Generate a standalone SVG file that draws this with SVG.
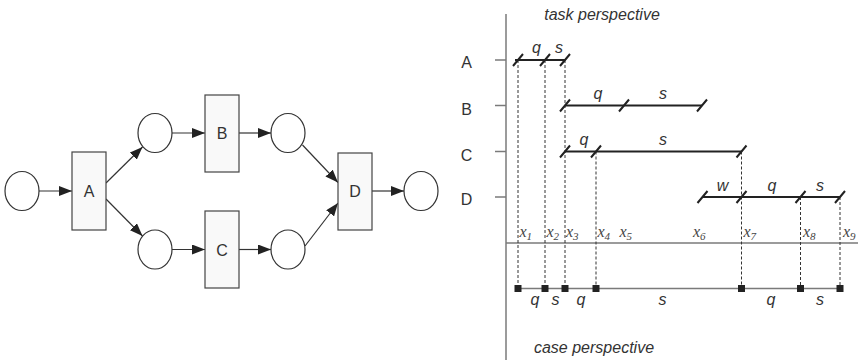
<svg xmlns="http://www.w3.org/2000/svg" width="858" height="360" viewBox="0 0 858 360">
<style>
.pl{fill:#ffffff;stroke:#333;stroke-width:1.2}
.tr{fill:#f9f9f9;stroke:#444;stroke-width:1.2}
.lb{font-family:"Liberation Sans",Arial,sans-serif;font-size:16px;fill:#333;text-anchor:middle}
.ar{stroke:#333;stroke-width:1.2;fill:none;marker-end:url(#ah)}
.ax{stroke:#7a7a7a;stroke-width:1.5;fill:none}
.tl{stroke:#222;stroke-width:2;fill:none}
.sl{stroke:#222;stroke-width:2;fill:none}
.dl{stroke:#333;stroke-width:1;stroke-dasharray:3,2;fill:none}
.it{font-family:"Liberation Sans",Arial,sans-serif;font-style:italic;font-size:16px;fill:#333;text-anchor:middle}
.ti{font-family:"Liberation Sans",Arial,sans-serif;font-style:italic;font-size:16px;fill:#333;text-anchor:middle}
.xl{font-family:"Liberation Serif","Times New Roman",serif;font-style:italic;font-size:16px;fill:#444}
.sub{font-size:11px}
.sq{fill:#222}
</style>
<defs>
<marker id="ah" markerWidth="13" markerHeight="10" refX="13" refY="5" orient="auto" markerUnits="userSpaceOnUse">
<path d="M0,0 L13,5 L0,10 z" fill="#222"/>
</marker>
</defs>

<g id="connectors">
<line class="ar" x1="39" y1="191" x2="72" y2="191"/>
<line class="ar" x1="106" y1="183" x2="142.5" y2="147"/>
<line class="ar" x1="106" y1="199" x2="142.5" y2="236"/>
<line class="ar" x1="172" y1="133" x2="205" y2="133"/>
<line class="ar" x1="172" y1="249.5" x2="205" y2="249.5"/>
<line class="ar" x1="239" y1="133" x2="271" y2="133"/>
<line class="ar" x1="239" y1="249.5" x2="271" y2="249.5"/>
<line class="ar" x1="302.5" y1="145" x2="338" y2="182.5"/>
<line class="ar" x1="305" y1="246" x2="338" y2="203"/>
<line class="ar" x1="372" y1="191" x2="404" y2="191"/>
</g>

<g id="p0"><ellipse class="pl" cx="22" cy="191" rx="17" ry="19.5"/></g>
<g id="A"><rect class="tr" x="72" y="152" width="34" height="78"/><text class="lb" x="89" y="197">A</text></g>
<g id="p1"><ellipse class="pl" cx="155" cy="133" rx="17" ry="19.5"/></g>
<g id="p2"><ellipse class="pl" cx="155" cy="249.5" rx="17" ry="19.5"/></g>
<g id="B"><rect class="tr" x="205" y="95" width="34" height="77"/><text class="lb" x="222" y="139">B</text></g>
<g id="C"><rect class="tr" x="205" y="211" width="34" height="77"/><text class="lb" x="222" y="255.5">C</text></g>
<g id="p3"><ellipse class="pl" cx="288" cy="133" rx="17" ry="19.5"/></g>
<g id="p4"><ellipse class="pl" cx="288" cy="249.5" rx="17" ry="19.5"/></g>
<g id="D"><rect class="tr" x="338" y="153" width="34" height="77"/><text class="lb" x="355" y="197">D</text></g>
<g id="p5"><ellipse class="pl" cx="421" cy="191" rx="17" ry="19.5"/></g>

<g id="chart">
<line class="ax" x1="506" y1="14" x2="506" y2="360"/>
<line class="ax" x1="506" y1="243" x2="858" y2="243"/>
<text class="ti" x="602" y="20">task perspective</text>
<text class="ti" x="594" y="353">case perspective</text>

<g id="rowlabels">
<line class="ax" x1="495" y1="60" x2="506" y2="60"/>
<line class="ax" x1="495" y1="105.5" x2="506" y2="105.5"/>
<line class="ax" x1="495" y1="151.5" x2="506" y2="151.5"/>
<line class="ax" x1="495" y1="197" x2="506" y2="197"/>
<text class="lb" x="466.5" y="68">A</text>
<text class="lb" x="466.5" y="115">B</text>
<text class="lb" x="466.5" y="160.5">C</text>
<text class="lb" x="466.5" y="205">D</text>
</g>

<g id="dashes">
<line class="dl" x1="518" y1="60" x2="518" y2="288"/>
<line class="dl" x1="545" y1="60" x2="545" y2="288"/>
<line class="dl" x1="565" y1="60" x2="565" y2="288"/>
<line class="dl" x1="596" y1="151.5" x2="596" y2="288"/>
<line class="dl" x1="741.5" y1="151.5" x2="741.5" y2="288"/>
<line class="dl" x1="800.5" y1="197" x2="800.5" y2="288"/>
<line class="dl" x1="840" y1="197" x2="840" y2="288" stroke="#777"/>
</g>

<g id="taskA">
<line class="tl" x1="515" y1="60" x2="565" y2="60"/>
<path class="sl" d="M513,66 L523,54 M540,66 L550,54 M560,66 L570,54"/>
<text class="it" x="536.5" y="53">q</text>
<text class="it" x="559" y="53">s</text>
</g>
<g id="taskB">
<line class="tl" x1="565" y1="105.5" x2="702" y2="105.5"/>
<path class="sl" d="M560,111.5 L570,99.5 M619,111.5 L629,99.5 M697,111.5 L707,99.5"/>
<text class="it" x="598" y="99">q</text>
<text class="it" x="663" y="99">s</text>
</g>
<g id="taskC">
<line class="tl" x1="565" y1="151.5" x2="741.5" y2="151.5"/>
<path class="sl" d="M560,157.5 L570,145.5 M591,157.5 L601,145.5 M736.5,157.5 L746.5,145.5"/>
<text class="it" x="584" y="145">q</text>
<text class="it" x="663" y="145">s</text>
</g>
<g id="taskD">
<line class="tl" x1="702.5" y1="197" x2="840" y2="197"/>
<path class="sl" d="M697.5,203 L707.5,191 M736.5,203 L746.5,191 M795.5,203 L805.5,191 M835,203 L845,191"/>
<text class="it" x="722.5" y="190.5">w</text>
<text class="it" x="772" y="190.5">q</text>
<text class="it" x="820" y="190.5">s</text>
</g>

<g id="xlabels">
<text class="xl" x="519.5" y="237">x<tspan class="sub" dy="3">1</tspan></text>
<text class="xl" x="546.5" y="237">x<tspan class="sub" dy="3">2</tspan></text>
<text class="xl" x="566" y="237">x<tspan class="sub" dy="3">3</tspan></text>
<text class="xl" x="597.5" y="237">x<tspan class="sub" dy="3">4</tspan></text>
<text class="xl" x="619.5" y="237">x<tspan class="sub" dy="3">5</tspan></text>
<text class="xl" x="693" y="237">x<tspan class="sub" dy="3">6</tspan></text>
<text class="xl" x="743.5" y="237">x<tspan class="sub" dy="3">7</tspan></text>
<text class="xl" x="803" y="237">x<tspan class="sub" dy="3">8</tspan></text>
<text class="xl" x="843" y="237">x<tspan class="sub" dy="3">9</tspan></text>
</g>

<g id="caseline">
<line class="ax" x1="518" y1="288.5" x2="840" y2="288.5"/>
<rect class="sq" x="514.5" y="285" width="7" height="7"/>
<rect class="sq" x="541.5" y="285" width="7" height="7"/>
<rect class="sq" x="561.5" y="285" width="7" height="7"/>
<rect class="sq" x="592.5" y="285" width="7" height="7"/>
<rect class="sq" x="738" y="285" width="7" height="7"/>
<rect class="sq" x="797" y="285" width="7" height="7"/>
<rect class="sq" x="836.5" y="285" width="7" height="7"/>
<text class="it" x="535" y="305">q</text>
<text class="it" x="555.5" y="305">s</text>
<text class="it" x="581" y="305">q</text>
<text class="it" x="662.5" y="305">s</text>
<text class="it" x="771" y="305">q</text>
<text class="it" x="820" y="305">s</text>
</g>
</g>
</svg>
